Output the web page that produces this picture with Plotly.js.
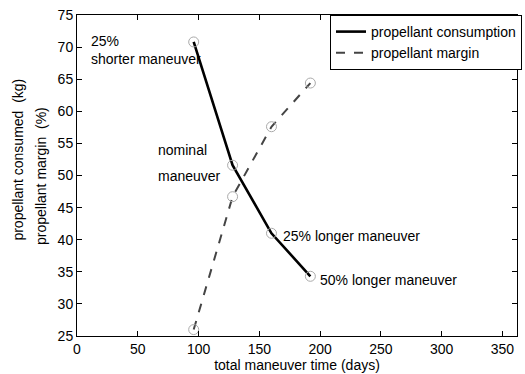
<!DOCTYPE html>
<html>
<head>
<meta charset="utf-8">
<script src="https://cdn.plot.ly/plotly-3.0.1.min.js"></script>
<style>html,body{margin:0;padding:0;background:#fff;}#chart{width:525px;height:374px;}</style>
</head>
<body>
<div id="chart"></div>
<script>
const days = [96, 128, 160, 192];
const consumption = [70.8, 51.6, 41.0, 34.3];
const margin = [26.0, 46.7, 57.6, 64.4];
const yTicks = [25, 30, 35, 40, 45, 50, 55, 60, 65, 70, 75];
const xTicks = [0, 50, 100, 150, 200, 250, 300, 350];
const labels = [
  {text: "25%<br>shorter maneuver", x: 9.5, y: 69.6},
  {text: "nominal", x: 65, y: 54.0},
  {text: "maneuver", x: 65, y: 49.9},
  {text: "25% longer maneuver", x: 168, y: 40.6},
  {text: "50% longer maneuver", x: 198, y: 33.7}
];

const font = {family: "'Liberation Sans', Arial, sans-serif", size: 14, color: "#000"};

const traces = [
  {x: days, y: consumption, mode: "lines", name: "propellant consumption",
   line: {color: "#000", width: 2.6}},
  {x: days, y: margin, mode: "lines", name: "propellant margin",
   line: {color: "#444", width: 2, dash: "dash"}},
  {x: days.concat(days), y: consumption.concat(margin), mode: "markers", showlegend: false,
   marker: {symbol: "circle-open", size: 10, color: "#aaa", line: {width: 1}}}
];

const annotations = labels.map(l => ({
  text: l.text, x: l.x, y: l.y, xref: "x", yref: "y", showarrow: false,
  xanchor: "left", yanchor: "middle", align: "left", font: font
}));
annotations.push({text: "propellant consumed  (kg)", textangle: -90, xref: "paper", yref: "paper",
  x: -0.133, y: 0.551, showarrow: false, xanchor: "center", yanchor: "middle", font: font});
annotations.push({text: "propellant margin  (%)", textangle: -90, xref: "paper", yref: "paper",
  x: -0.083, y: 0.50, showarrow: false, xanchor: "center", yanchor: "middle", font: font});

const layout = {
  width: 525, height: 374,
  margin: {l: 77, r: 3, t: 15, b: 38},
  paper_bgcolor: "#fff", plot_bgcolor: "#fff",
  font: font,
  showlegend: true,
  legend: {x: 0.575, y: 1, xanchor: "left", yanchor: "top", bordercolor: "#000", borderwidth: 1,
           bgcolor: "#fff", font: font, tracegroupgap: 0, itemwidth: 30},
  xaxis: {range: [0, 362], tickvals: xTicks, ticks: "inside", ticklen: 5, tickcolor: "#000",
          showline: true, linecolor: "#000", linewidth: 1, mirror: "ticks", showgrid: false,
          zeroline: false, tickfont: font,
          title: {text: "total maneuver time (days)", font: font, standoff: 0}},
  yaxis: {range: [25, 75], tickvals: yTicks, ticks: "inside", ticklen: 5, tickcolor: "#000",
          showline: true, linecolor: "#000", linewidth: 1, mirror: "ticks", showgrid: false,
          zeroline: false, tickfont: font},
  annotations: annotations
};

Plotly.newPlot("chart", traces, layout, {displayModeBar: false, staticPlot: true});
</script>
</body>
</html>
